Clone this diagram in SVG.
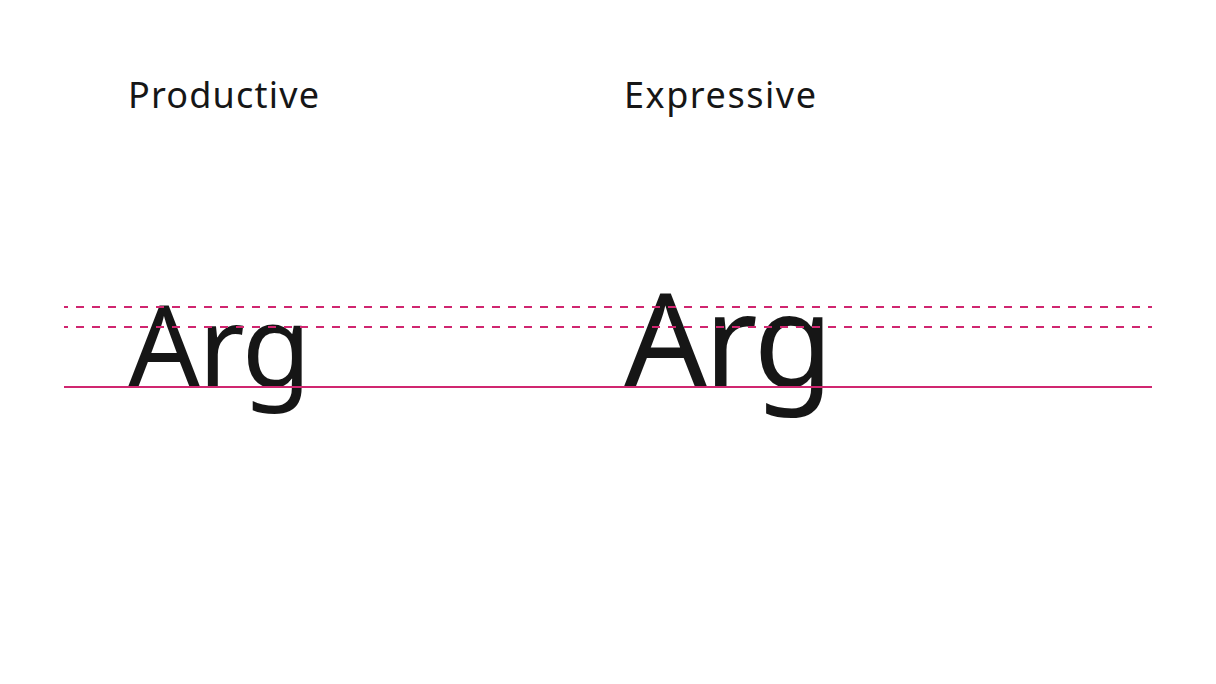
<svg xmlns="http://www.w3.org/2000/svg" width="1216" height="684" viewBox="0 0 1216 684">
<style>
.lbl{font-family:"Noto Sans","Open Sans",sans-serif;font-size:36px;fill:#161616}
.arg{font-family:"Noto Sans","Open Sans",sans-serif;fill:#161616}
.dash{stroke:#d02670;stroke-width:2;stroke-dasharray:8 8;stroke-dashoffset:4;fill:none}
.base{stroke:#d02670;stroke-width:2;fill:none}
</style>
<rect width="1216" height="684" fill="#ffffff"/>
<g id="productive">
<text class="lbl" x="128" y="108" textLength="191" lengthAdjust="spacing">Productive</text>
<text class="arg" x="128" y="387" font-size="113" letter-spacing="-2">Arg</text>
</g>
<g id="expressive">
<text class="lbl" x="624" y="108" textLength="192" lengthAdjust="spacing">Expressive</text>
<text class="arg" x="624" y="387" font-size="130" letter-spacing="-3">Arg</text>
</g>
<g id="guides">
<line class="dash" x1="64" y1="307" x2="1152" y2="307"/>
<line class="dash" x1="64" y1="327" x2="1152" y2="327"/>
<line class="base" x1="64" y1="387" x2="1152" y2="387"/>
</g>
</svg>
